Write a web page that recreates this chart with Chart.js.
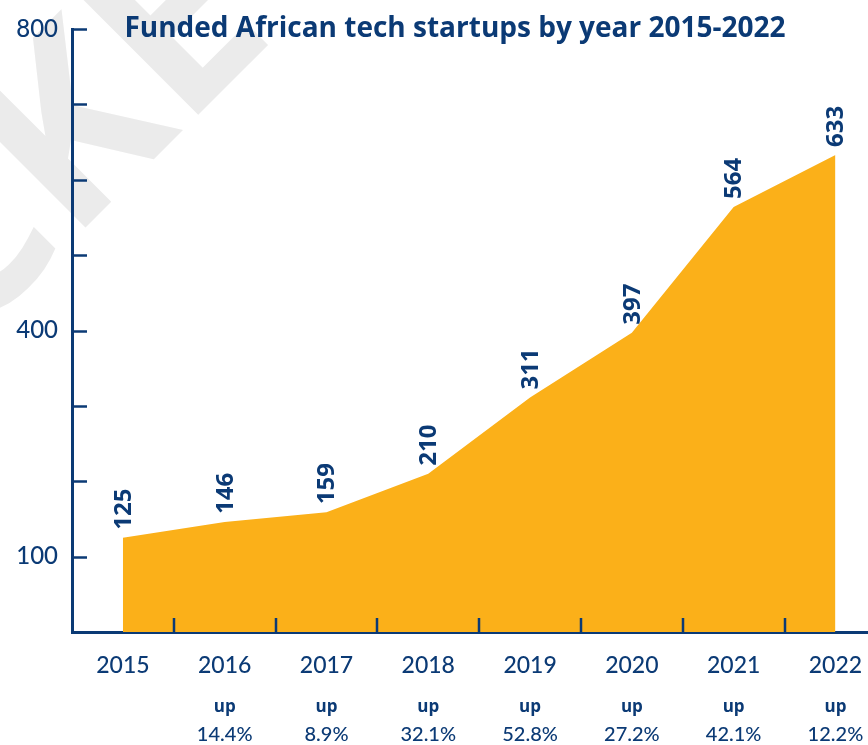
<!DOCTYPE html>
<html>
<head>
<meta charset="utf-8">
<title>Funded African tech startups by year 2015-2022</title>
<script src="https://cdn.jsdelivr.net/npm/chart.js@4.4.0/dist/chart.umd.min.js"></script>
<style>
    html, body { margin: 0; padding: 0; background: #fff; overflow: hidden; }
    canvas { display: block; }
</style>
</head>
<body>
<canvas id="myChart" width="868" height="745"></canvas>
<script>
const years = [2015, 2016, 2017, 2018, 2019, 2020, 2021, 2022]
const startups = [125, 146, 159, 210, 311, 397, 564, 633]
const growth = ['', '14.4%', '8.9%', '32.1%', '52.8%', '27.2%', '42.1%', '12.2%']
const yLabels = [800, 400, 100]

const navy = '#0B3A75'
const orange = '#FBB019'
const font = '"Open Sans", "Noto Sans", sans-serif'
const medium = 'Lato, "Open Sans", sans-serif'

const ctx = document.getElementById('myChart')

let points = []
for (let i = 0; i < years.length; i++) {
    points.push({ x: years[i], y: startups[i] })
}

// faint grey watermark in the top-left corner
const watermark = {
    id: 'watermark',
    beforeDraw(chart) {
        const c = chart.ctx
        c.save()
        c.font = 'bold 240px ' + font
        const shift = c.measureText('CK').width * Math.SQRT1_2
        c.translate(183 - shift, 130 + shift)
        c.rotate(-Math.PI / 4)
        c.fillStyle = '#EBEBEB'
        c.textBaseline = 'alphabetic'
        c.fillText('CKE', 0, 0)
        c.restore()
    }
}

const extras = {
    id: 'extras',
    afterDatasetsDraw(chart) {
        const c = chart.ctx
        const x = chart.scales.x
        const y = chart.scales.y
        c.save()
        c.strokeStyle = navy
        c.lineWidth = 2.5
        // inward tick marks on the value axis
        for (let v = 100; v <= 800; v += 100) {
            const py = Math.round(y.getPixelForValue(v)) + 0.5
            c.beginPath()
            c.moveTo(x.left, py)
            c.lineTo(x.left + 15, py)
            c.stroke()
        }
        // inward tick marks between the years
        for (let i = 0; i < years.length - 1; i++) {
            const px = Math.round(x.getPixelForValue((years[i] + years[i + 1]) / 2))
            c.beginPath()
            c.moveTo(px, y.bottom)
            c.lineTo(px, y.bottom - 14)
            c.stroke()
        }
        // value labels, rotated
        c.fillStyle = navy
        c.font = 'bold 24px ' + font
        c.textAlign = 'left'
        c.textBaseline = 'middle'
        for (let i = 0; i < years.length; i++) {
            const px = x.getPixelForValue(years[i])
            const py = y.getPixelForValue(startups[i])
            c.save()
            c.translate(px + 1, py - 8)
            c.rotate(-Math.PI / 2)
            c.fillText(startups[i], 0, 0)
            c.restore()
        }
        c.restore()
    },
    afterDraw(chart) {
        const c = chart.ctx
        const x = chart.scales.x
        c.save()
        c.fillStyle = navy
        c.textAlign = 'center'
        c.textBaseline = 'middle'
        for (let i = 0; i < years.length; i++) {
            if (!growth[i]) continue
            const px = x.getPixelForValue(years[i])
            c.font = 'bold 17px ' + font
            c.fillText('up', px, 707)
            c.font = '500 20px ' + medium
            c.fillText(growth[i], px, 735)
        }
        c.font = 'bold 28px ' + font
        c.textBaseline = 'alphabetic'
        c.fillText('Funded African tech startups by year 2015-2022', 455, 37)
        c.restore()
    }
}

new Chart(ctx, {
    type: 'line',
    data: {
        datasets: [{
            label: 'Funded startups',
            data: points,
            fill: 'origin',
            backgroundColor: orange,
            borderWidth: 0,
            pointRadius: 0,
            tension: 0
        }]
    },
    options: {
        responsive: false,
        animation: false,
        layout: {
            padding: { top: 29, right: 0, bottom: 0, left: 0 }
        },
        plugins: {
            legend: { display: false },
            tooltip: { enabled: false }
        },
        scales: {
            x: {
                type: 'linear',
                min: 2014.5,
                max: 2022.32,
                afterBuildTicks: (scale) => {
                    scale.ticks = years.map(v => ({ value: v }))
                },
                afterFit: (scale) => {
                    scale.height = 113
                    scale.paddingLeft = 0
                    scale.paddingRight = 0
                },
                grid: { display: false, drawTicks: false },
                border: { color: navy, width: 3 },
                ticks: {
                    color: navy,
                    padding: 20,
                    maxRotation: 0,
                    autoSkip: false,
                    font: { family: medium, size: 23, weight: 500 },
                    callback: (v) => String(v)
                }
            },
            y: {
                min: 0,
                max: 800,
                afterFit: (scale) => { scale.width = 72 },
                grid: { display: false, drawTicks: false },
                border: { color: navy, width: 3 },
                ticks: {
                    stepSize: 100,
                    color: navy,
                    padding: 14,
                    autoSkip: false,
                    font: { family: medium, size: 24, weight: 500 },
                    callback: (v) => yLabels.includes(v) ? String(v) : ''
                }
            }
        }
    },
    plugins: [watermark, extras]
});
</script>
</body>
</html>
